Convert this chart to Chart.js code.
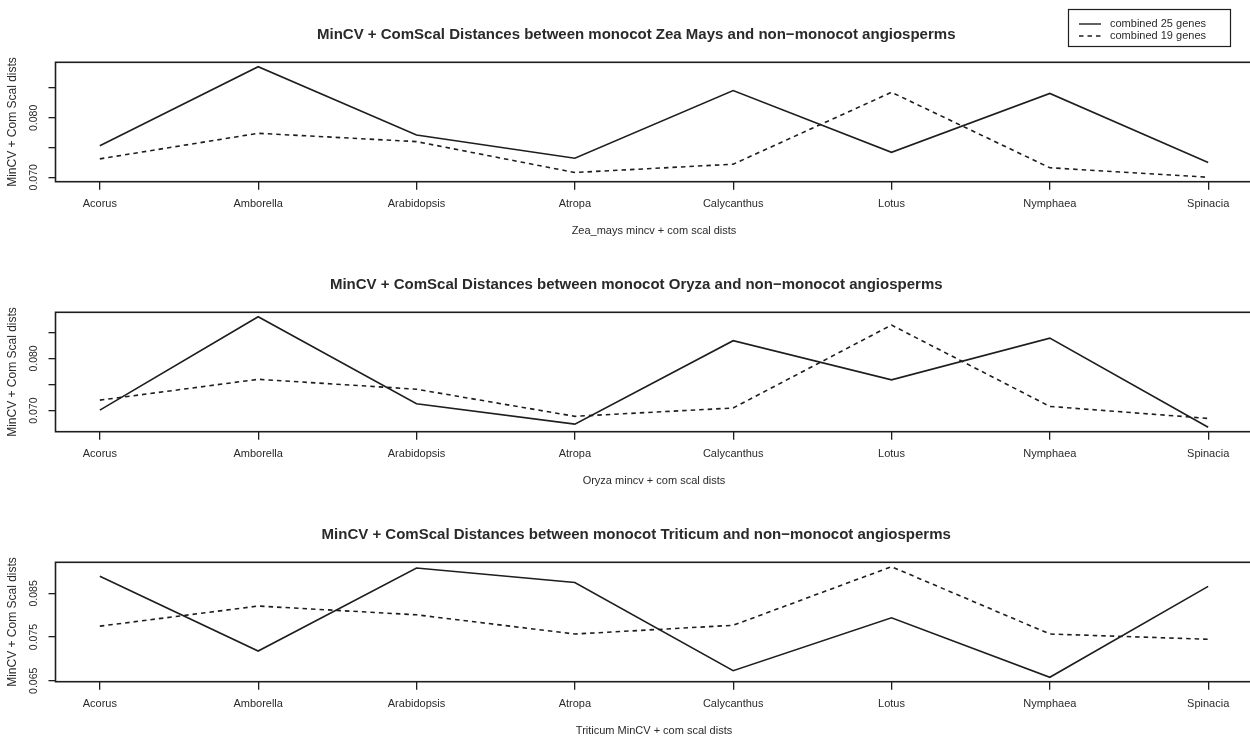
<!DOCTYPE html>
<html>
<head>
<meta charset="utf-8">
<script src="https://cdn.jsdelivr.net/npm/chart.js@4"></script>
<style>
html,body{margin:0;padding:0;background:#fff;overflow:hidden;width:1250px;height:738px;position:relative}
canvas{position:absolute;left:0}
</style>
</head>
<body>
<canvas id="c1" width="1260" height="250" style="top:0px"></canvas>
<canvas id="c2" width="1260" height="250" style="top:250px"></canvas>
<canvas id="c3" width="1260" height="250" style="top:500px"></canvas>
<script>
// ---- data ----
const categories = ['Acorus','Amborella','Arabidopsis','Atropa','Calycanthus','Lotus','Nymphaea','Spinacia'];
const seriesNames = ['combined 25 genes','combined 19 genes'];

const zea25 = [0.0753, 0.0886, 0.0771, 0.0732, 0.0846, 0.0742, 0.0841, 0.0725];
const zea19 = [0.0731, 0.0774, 0.0760, 0.0708, 0.0722, 0.0843, 0.0716, 0.0700];
const oryza25 = [0.0701, 0.0880, 0.0713, 0.0674, 0.0834, 0.0759, 0.0839, 0.0668];
const oryza19 = [0.0720, 0.0760, 0.0741, 0.0689, 0.0705, 0.0864, 0.0708, 0.0685];
const triticum25 = [0.0889, 0.0718, 0.0908, 0.0875, 0.0673, 0.0794, 0.0658, 0.0866];
const triticum19 = [0.0775, 0.0821, 0.0801, 0.0757, 0.0777, 0.0911, 0.0757, 0.0745];

const yTicksA = [0.070, 0.075, 0.080, 0.085];
const yTickLabelsA = ['0.070', '', '0.080', ''];
const yTicksB = [0.065, 0.070, 0.075, 0.080, 0.085, 0.090];
const yTickLabelsB = ['0.065', '', '0.075', '', '0.085', ''];

const titles = [
  'MinCV + ComScal Distances between monocot Zea Mays and non\u2212monocot angiosperms',
  'MinCV + ComScal Distances between monocot Oryza and non\u2212monocot angiosperms',
  'MinCV + ComScal Distances between monocot Triticum and non\u2212monocot angiosperms'
];
const xTitles = ['Zea_mays mincv + com scal dists', 'Oryza mincv + com scal dists', 'Triticum MinCV + com scal dists'];
const yTitle = 'MinCV + Com Scal dists';

// ---- style ----
const FONT = '"Liberation Sans", Arial, Helvetica, sans-serif';
const INK = '#1e1e1e';
const TXT = '#2a2a2a';
const PAD_LEFT = 20;      // shifts the full-width title box so the title is centred like R's
const AXIS_LEFT = 55.5;   // chart area left edge

const boxPlugin = {
  id: 'box',
  afterDraw(chart) {
    const a = chart.chartArea, c = chart.ctx;
    c.save();
    c.strokeStyle = INK; c.lineWidth = 1.6;
    c.strokeRect(a.left, a.top, a.right - a.left, a.bottom - a.top);
    c.restore();
  }
};

const legendPlugin = {
  id: 'rlegend',
  afterDraw(chart) {
    const c = chart.ctx;
    c.save();
    c.strokeStyle = INK; c.lineWidth = 1.2;
    c.strokeRect(1068.5, 9.5, 162, 37);
    const rows = [24, 36];
    chart.data.datasets.forEach((ds, i) => {
      c.setLineDash(ds.borderDash || []);
      c.lineWidth = 1.4;
      c.beginPath(); c.moveTo(1079, rows[i]); c.lineTo(1101, rows[i]); c.stroke();
      c.setLineDash([]);
      c.fillStyle = TXT;
      c.font = '11px ' + FONT;
      c.textBaseline = 'middle'; c.textAlign = 'left';
      c.fillText(ds.label, 1110, rows[i]);
    });
    c.restore();
  }
};

function makeChart(id, title, xTitle, s25, s19, yTicks, yTickLabels, withLegend) {
  const all = s25.concat(s19);
  const lo = Math.min(...all), hi = Math.max(...all), ext = (hi - lo) * 0.04;
  const plugins = [boxPlugin];
  if (withLegend) plugins.push(legendPlugin);
  return new Chart(document.getElementById(id), {
    type: 'line',
    data: {
      datasets: [
        { label: seriesNames[0], data: s25.map((v, i) => ({x: i + 1, y: v})),
          borderColor: INK, borderWidth: 1.6, pointRadius: 0, tension: 0, fill: false },
        { label: seriesNames[1], data: s19.map((v, i) => ({x: i + 1, y: v})),
          borderColor: INK, borderWidth: 1.6, borderDash: [4.5, 4], pointRadius: 0, tension: 0, fill: false }
      ]
    },
    options: {
      responsive: false, animation: false, devicePixelRatio: 1,
      layout: { padding: { top: 0, left: PAD_LEFT, right: 7.5, bottom: 8.3 } },
      plugins: {
        legend: { display: false },
        tooltip: { enabled: false },
        title: { display: true, text: title, color: TXT,
          font: { family: FONT, size: 15, weight: 'bold', lineHeight: 1.2 },
          padding: { top: 26, bottom: 18.3 } }
      },
      scales: {
        x: {
          type: 'linear', min: 0.72, max: 8.28,
          afterBuildTicks: a => { a.ticks = categories.map((c, i) => ({ value: i + 1 })); },
          afterFit: a => { a.height = 60; },
          border: { display: false },
          grid: { display: true, drawOnChartArea: false, drawTicks: true, tickLength: 8, color: INK, lineWidth: 1.3 },
          ticks: { autoSkip: false, maxRotation: 0, minRotation: 0, padding: 7.7, color: TXT,
            font: { family: FONT, size: 11 },
            callback: v => categories[Math.round(v) - 1] },
          title: { display: true, text: xTitle, color: TXT, font: { family: FONT, size: 11, lineHeight: 1.2 },
            padding: { top: 0, bottom: 4.1 } }
        },
        y: {
          min: lo - ext, max: hi + ext,
          afterBuildTicks: a => { a.ticks = yTicks.map(v => ({ value: v })); },
          afterFit: a => { a.width = AXIS_LEFT - PAD_LEFT; },
          border: { display: false },
          grid: { display: true, drawOnChartArea: false, drawTicks: true, tickLength: 7, color: INK, lineWidth: 1.3 },
          ticks: { minRotation: 90, maxRotation: 90, crossAlign: 'center', padding: 1, color: TXT,
            font: { family: FONT, size: 10.5 },
            callback: (v, i) => yTickLabels[i] },
          title: { display: true, text: yTitle, color: TXT, font: { family: FONT, size: 12, lineHeight: 1.2 },
            padding: { top: 13 - PAD_LEFT - 7.2, bottom: 0 } }
        }
      }
    },
    plugins: plugins
  });
}

makeChart('c1', titles[0], xTitles[0], zea25, zea19, yTicksA, yTickLabelsA, true);
makeChart('c2', titles[1], xTitles[1], oryza25, oryza19, yTicksA, yTickLabelsA, false);
makeChart('c3', titles[2], xTitles[2], triticum25, triticum19, yTicksB, yTickLabelsB, false);
</script>
</body>
</html>
